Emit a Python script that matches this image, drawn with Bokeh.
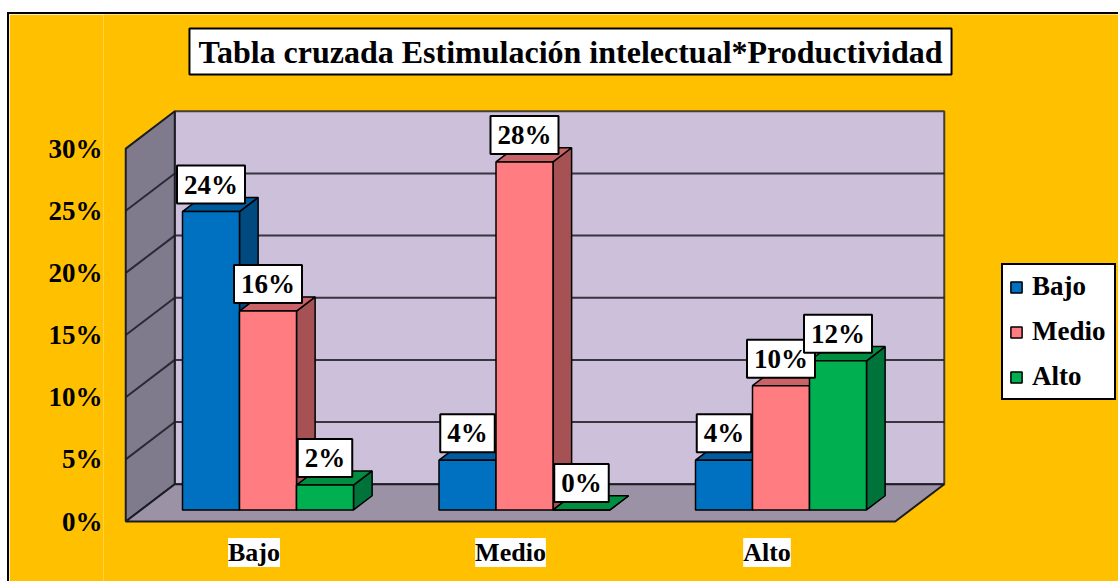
from bokeh.embed import file_html
from bokeh.resources import INLINE
from bokeh.plotting import figure
from bokeh.models import Range1d, FixedTicker, Label, Legend, LegendItem

categories = ["Bajo", "Medio", "Alto"]
series_names = ["Bajo", "Medio", "Alto"]
bajo_values = [24, 4, 4]
medio_values = [16, 28, 10]
alto_values = [2, 0, 12]
y_ticks = [0, 5, 10, 15, 20, 25, 30]
title_text = "Tabla cruzada Estimulación intelectual*Productividad"

front_colors = ["#0070C0", "#FF7C80", "#00B050"]
top_colors = ["#005C9E", "#C96367", "#008F41"]
side_colors = ["#004A80", "#A65255", "#00733A"]
WALL = "#CCC0DA"
SIDE_WALL = "#7F7B8C"
FLOOR = "#9B92A5"
EDGE = "#1c1c24"
ORANGE = "#FFC000"
FONT = "Liberation Serif"

# page-pixel layout
CANVAS_X, CANVAS_Y = 7, 12
BORDER = 2
L, R, T, B = 103, 1120, 14, 584
X0, X_PER = 253.5, 256.5   # page x of category 0, px per category
Y0, Y_PER = 521.0, 12.43   # page y of 0 %, px per 1 %
DX, DY = 49 / X_PER, 3.0   # chart depth, data units
BAR_W = 2 / 9
D_FRONT_X, D_FRONT_Y, D_BAR = 14 / 49, 0.31, 0.38


def dx(px):
    return (px - X0) / X_PER


def dy(py):
    return (Y0 - py) / Y_PER


p = figure(
    width=R - CANVAS_X - BORDER, height=B - CANVAS_Y - BORDER,
    x_range=Range1d(dx(L), dx(R)), y_range=Range1d(dy(B), dy(T)),
    output_backend="svg", toolbar_location=None,
    min_border_left=L - CANVAS_X - BORDER, min_border_right=0,
    min_border_top=0, min_border_bottom=0,
    border_fill_color=ORANGE, background_fill_color=ORANGE,
    outline_line_color=None,
    margin=(CANVAS_Y, 0, 0, CANVAS_X),
    styles={"border-left": f"{BORDER}px solid black", "border-top": f"{BORDER}px solid black"},
)
p.grid.visible = False
p.xaxis.visible = False

ya = p.yaxis[0]
ya.ticker = FixedTicker(ticks=y_ticks)
ya.major_label_overrides = {t: f"{t}%" for t in y_ticks}
ya.major_label_text_font = FONT
ya.major_label_text_font_style = "bold"
ya.major_label_text_font_size = "27px"
ya.major_label_text_color = "black"
ya.major_label_standoff = 1
ya.major_tick_out = 0
ya.major_tick_in = 0
ya.axis_line_color = None
ya.major_tick_line_color = None
ya.minor_tick_line_color = None

xl, xr = -0.5, 2.5
top = y_ticks[-1]
# walls and floor
p.patch([xl + DX, xr + DX, xr + DX, xl + DX], [DY, DY, top + DY, top + DY],
        fill_color=WALL, line_color=EDGE, line_width=2, line_alpha=0.8)
p.patch([xl, xl + DX, xl + DX, xl], [0, DY, top + DY, top],
        fill_color=SIDE_WALL, line_color=EDGE, line_width=2)
p.patch([xl, xr, xr + DX, xl + DX], [0, 0, DY, DY],
        fill_color=FLOOR, line_color=EDGE, line_width=2)
for t in y_ticks[1:-1]:
    p.line([xl, xl + DX, xr + DX], [t, t + DY, t + DY], line_color=EDGE, line_width=2, line_alpha=0.85)

all_values = [bajo_values, medio_values, alto_values]
items = []
for s, vals in enumerate(all_values):
    lefts = [i + (s - 1.5) * BAR_W + D_FRONT_X * DX for i in range(3)]
    rights = [x + BAR_W for x in lefts]
    base = D_FRONT_Y * DY
    sx, sy, tx, ty = [], [], [], []
    for l, r, v in zip(lefts, rights, vals):
        h = v + base
        sx.append([r, r + D_BAR * DX, r + D_BAR * DX, r])
        sy.append([base, base + D_BAR * DY, h + D_BAR * DY, h])
        tx.append([l, r, r + D_BAR * DX, l + D_BAR * DX])
        ty.append([h, h, h + D_BAR * DY, h + D_BAR * DY])
    p.patches(sx, sy, fill_color=side_colors[s], line_color="black", line_width=1.5)
    p.patches(tx, ty, fill_color=top_colors[s], line_color="black", line_width=1.5)
    front = p.quad(left=lefts, right=rights, bottom=[base] * 3, top=[v + base for v in vals],
                   fill_color=front_colors[s], line_color="black", line_width=1.5)
    items.append(LegendItem(label=series_names[s], renderers=[front]))
    for i, (l, r, v) in enumerate(zip(lefts, rights, vals)):
        p.add_layout(Label(
            x=(l + r) / 2, y=v + base, y_offset=27, text=f"{v}%",
            text_font=FONT, text_font_style="bold", text_font_size="27px", text_color="black",
            text_align="center", text_baseline="middle",
            background_fill_color="white", border_line_color="black", border_line_width=2,
            padding=(7, 4),
        ))

for i, c in enumerate(categories):
    p.add_layout(Label(
        x=i, y=dy(552), text=c,
        text_font=FONT, text_font_style="bold", text_font_size="26px", text_color="black",
        text_align="center", text_baseline="middle",
        background_fill_color="white", padding=(0, 0),
    ))

p.add_layout(Label(
    x=dx(570), y=dy(51), text=title_text,
    text_font=FONT, text_font_style="bold", text_font_size="32px", text_color="black",
    text_align="center", text_baseline="middle",
    background_fill_color="white", border_line_color="black", border_line_width=2,
    padding=(9, 5),
))

legend = Legend(
    items=items, location=(1001 - L, B - 400), orientation="vertical",
    label_text_font=FONT, label_text_font_style="bold", label_text_font_size="27px",
    label_text_color="black", glyph_width=14, glyph_height=14, label_standoff=9,
    label_height=30, label_width=76, spacing=14, padding=6, margin=0,
    background_fill_color="white", background_fill_alpha=1,
    border_line_color="black", border_line_width=2, border_line_alpha=1,
)
p.add_layout(legend, "center")

open("out.html", "w").write(file_html(p, INLINE))
